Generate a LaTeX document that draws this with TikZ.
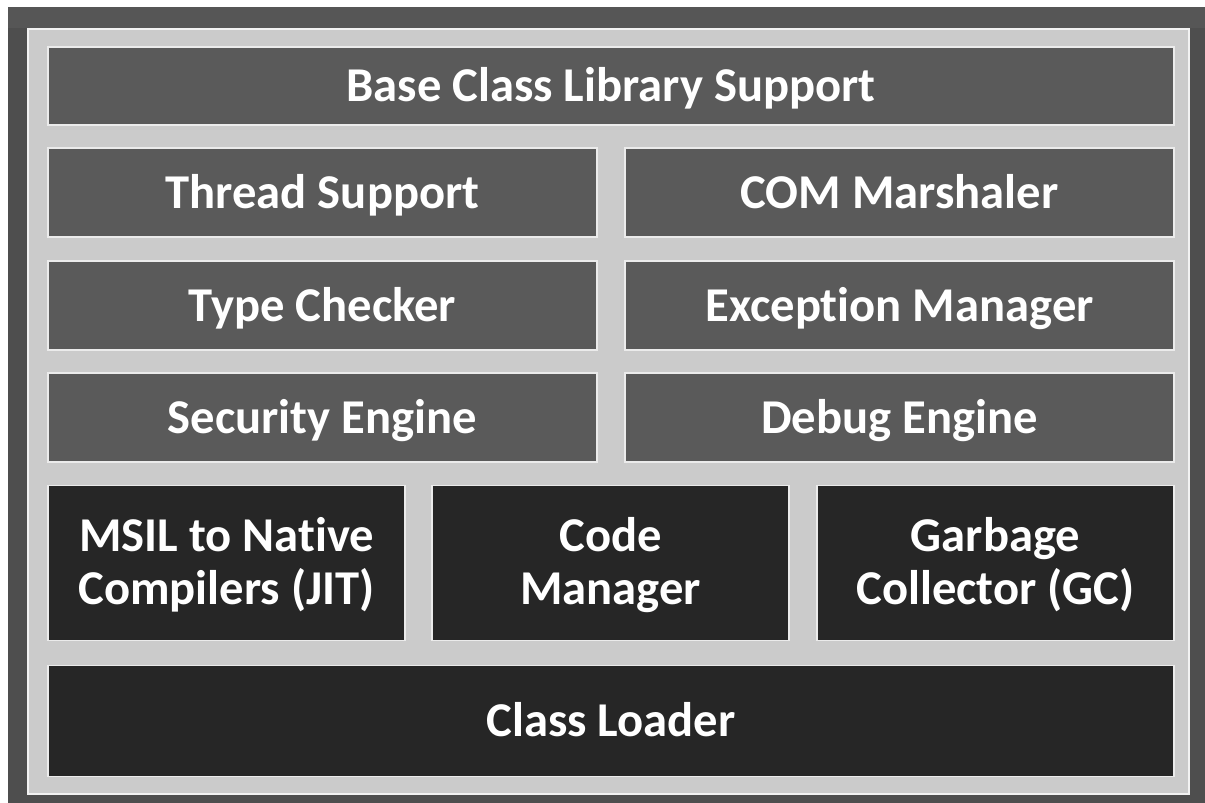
\documentclass[tikz,border=0pt]{standalone}
\usepackage{fontspec}
\setmainfont[Ligatures=NoCommon]{Carlito}
\definecolor{bgdark}{HTML}{4E4E4E}
\definecolor{frame}{HTML}{CBCBCB}
\definecolor{midbox}{HTML}{5A5A5A}
\definecolor{darkbox}{HTML}{262626}
\begin{document}
\begin{tikzpicture}[x=0.5pt,y=-0.5pt,
  lay/.style={draw=white!92!black, line width=0.7pt, inner sep=0pt},
  midlay/.style={lay, fill=midbox},
  darklay/.style={lay, fill=darkbox},
  wide/.style={minimum width=563pt, minimum height=#1},
  half/.style={minimum width=274.5pt, minimum height=44.5pt},
  third/.style={minimum width=178.5pt, minimum height=77.5pt},
  one/.style={anchor=base, yshift=-7.8pt, text=white, font=\fontsize{24.3}{26.5}\selectfont\bfseries, inner sep=0pt},
  two/.style={anchor=base, yshift=-20.5pt, text=white, font=\fontsize{24.3}{26.5}\selectfont\bfseries, align=center, inner sep=0pt}]
\useasboundingbox (0,0) rectangle (1205,803);
\fill[white] (0,0) rectangle (1205,803);
\fill[bgdark] (8,7) rectangle (1205,803);
\fill[black!60, opacity=0.35] (8,7) rectangle (1205,28);
\draw[fill=frame, draw=white!95!black, line width=1pt] (28,29) rectangle (1189,794);
% boxes
\node[midlay, wide=39pt] (bcl) at (611,86) {};
\node[midlay, half] (thr) at (322.5,192.5) {};
\node[midlay, half] (com) at (899.5,192.5) {};
\node[midlay, half] (typ) at (322.5,305.5) {};
\node[midlay, half] (exc) at (899.5,305.5) {};
\node[midlay, half] (sec) at (322.5,417.5) {};
\node[midlay, half] (dbg) at (899.5,417.5) {};
\node[darklay, third] (jit) at (226.5,563) {};
\node[darklay, third] (cm) at (610.5,563) {};
\node[darklay, third] (gc) at (995.5,563) {};
\node[darklay, wide=55.5pt] (cl) at (611,721) {};
% labels
\node[one] (tbcl) at (bcl.center) {Base Class Library Support};
\node[one] (tthr) at (thr.center) {Thread Support};
\node[one] (tcom) at (com.center) {COM Marshaler};
\node[one] (ttyp) at (typ.center) {Type Checker};
\node[one] (texc) at (exc.center) {Exception Manager};
\node[one] (tsec) at (sec.center) {Security Engine};
\node[one] (tdbg) at (dbg.center) {Debug Engine};
\node[two] (tjit) at (jit.center) {MSIL to Native\\Compilers (JIT)};
\node[two] (tcm) at (cm.center) {Code\\Manager};
\node[two] (tgc) at (gc.center) {Garbage\\Collector (GC)};
\node[one] (tcl) at (cl.center) {Class Loader};
\end{tikzpicture}
\end{document}
